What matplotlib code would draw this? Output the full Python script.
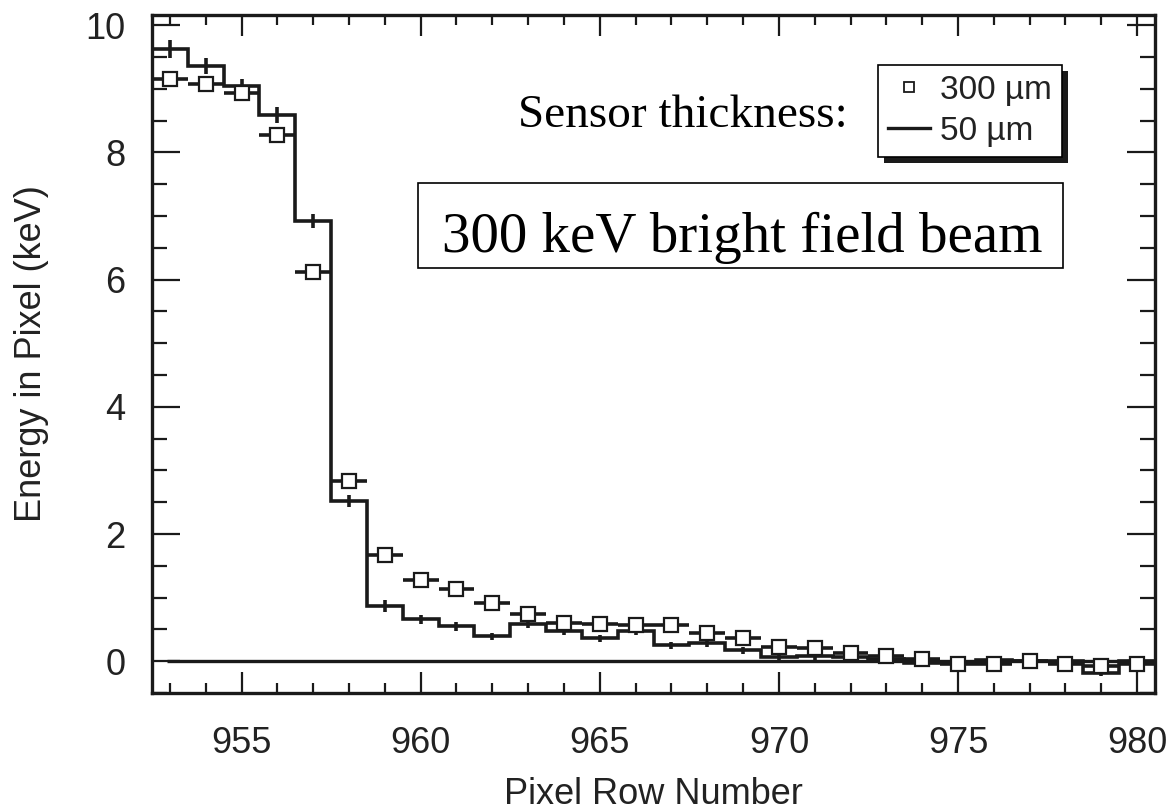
import matplotlib
matplotlib.use("Agg")
import matplotlib.pyplot as plt
import numpy as np
from matplotlib.lines import Line2D
from matplotlib.patches import Rectangle
from matplotlib.transforms import IdentityTransform
from matplotlib.ticker import MultipleLocator

# ---- data ----
rows = [953, 954, 955, 956, 957, 958, 959, 960, 961, 962, 963, 964, 965, 966,
        967, 968, 969, 970, 971, 972, 973, 974, 975, 976, 977, 978, 979, 980]
energy_50um = [9.63, 9.36, 9.04, 8.59, 6.92, 2.52, 0.87, 0.66, 0.55, 0.39, 0.59, 0.47,
               0.36, 0.47, 0.25, 0.29, 0.17, 0.07, 0.08, 0.06, 0.04, -0.03, -0.01,
               0.02, 0.00, 0.00, -0.18, 0.00]
err_50um = [0.14, 0.13, 0.11, 0.13, 0.11, 0.10, 0.09, 0.07, 0.07, 0.06, 0.06, 0.06,
            0.06, 0.06, 0.06, 0.06, 0.06, 0.06, 0.06, 0.06, 0.06, 0.06, 0.06,
            0.06, 0.06, 0.06, 0.06, 0.06]
energy_300um = [9.16, 9.08, 8.93, 8.27, 6.12, 2.84, 1.67, 1.28, 1.13, 0.91, 0.74, 0.60,
                0.58, 0.57, 0.57, 0.45, 0.36, 0.22, 0.21, 0.13, 0.08, 0.03, -0.05,
                -0.04, 0.00, -0.04, -0.08, -0.05]
x_ticks = [955, 960, 965, 970, 975, 980]
y_ticks = [0, 2, 4, 6, 8, 10]
legend_labels = ["300 µm", "50 µm"]
annot_label = "Sensor thickness:"
box_title = "300 keV bright field beam"

sans = ["Liberation Sans", "DejaVu Sans"]
serif = ["Liberation Serif", "DejaVu Serif"]
tcol = "#222222"

fig = plt.figure(figsize=(11.72, 8.10), dpi=100)
ax = fig.add_axes([0.1297, 0.1444, 0.8558, 0.8371])

x = np.array(rows, dtype=float)
edges = np.append(x - 0.5, x[-1] + 0.5)

# 50 um histogram
ax.stairs(energy_50um, edges, baseline=None, color="#1a1a1a", lw=2.6, zorder=3)
ax.errorbar(x, energy_50um, yerr=err_50um, fmt="none", ecolor="#1a1a1a",
            elinewidth=2.6, capsize=0, zorder=3)

# 300 um points
ax.errorbar(x, energy_300um, xerr=0.5, fmt="s", ms=9.5, mfc="white", mec="#1a1a1a",
            mew=1.6, ecolor="#1a1a1a", elinewidth=2.6, capsize=0, zorder=4)

# zero line
ax.hlines(0, 952.92, 980.5, color="#1a1a1a", lw=2.4, zorder=2)

ax.set_xlim(952.5, 980.5)
ax.set_ylim(-0.5, 10.16)
ax.set_xticks(x_ticks)
ax.set_yticks(y_ticks)
ax.xaxis.set_minor_locator(MultipleLocator(1))
ax.yaxis.set_minor_locator(MultipleLocator(0.5))
ax.tick_params(axis="both", which="both", direction="in", top=True, right=True,
               colors="#1a1a1a", width=1.6)
ax.tick_params(axis="x", which="major", length=15, pad=24)
ax.tick_params(axis="x", which="minor", length=7)
ax.tick_params(axis="y", which="major", length=20, pad=19)
ax.tick_params(axis="y", which="minor", length=11)
for lab in ax.get_xticklabels() + ax.get_yticklabels():
    lab.set_fontfamily(sans)
    lab.set_fontsize(26)
    lab.set_color(tcol)
for sp in ax.spines.values():
    sp.set_linewidth(2.4)
    sp.set_color("#1a1a1a")

ax.set_xlabel("Pixel Row Number", fontsize=26, family=sans, color=tcol, labelpad=11)
ax.set_ylabel("Energy in Pixel (keV)", fontsize=26, family=sans, color=tcol, labelpad=26)

# annotations
ax.text(0.694, 0.835, annot_label, transform=ax.transAxes, ha="right", va="baseline",
        fontsize=34, family=serif, color="black")
ax.add_patch(Rectangle((0.2652, 0.6268), 0.6431, 0.1254, transform=ax.transAxes,
                       fill=False, ec="black", lw=1.2, zorder=5))
ax.text(0.5887, 0.6504, box_title, transform=ax.transAxes, ha="center", va="baseline",
        fontsize=41, family=serif, color="black", zorder=6)

# legend
handles = [Line2D([], [], ls="none", marker="s", ms=6.5, mfc="white", mec="#1a1a1a", mew=1.3),
           Line2D([], [], color="#1a1a1a", lw=2.4)]
leg = ax.legend(handles, legend_labels, loc="upper right", bbox_to_anchor=(0.907, 0.926),
                prop={"family": sans, "size": 24}, frameon=True, fancybox=False,
                edgecolor="black", borderpad=0.3, labelspacing=0.3, handlelength=1.25,
                handletextpad=0.3, borderaxespad=0.0, framealpha=1)
leg.get_frame().set_linewidth(1.2)
for t in leg.get_texts():
    t.set_color(tcol)
leg.set_zorder(7)

fig.canvas.draw()
bb = leg.get_window_extent()
shadow = Rectangle((bb.x0 + 6, bb.y0 - 6), bb.width, bb.height, transform=IdentityTransform(),
                   fc="#1a1a1a", ec="none", zorder=6.9, clip_on=False)
ax.add_artist(shadow)

fig.savefig("out.png", dpi=100)
